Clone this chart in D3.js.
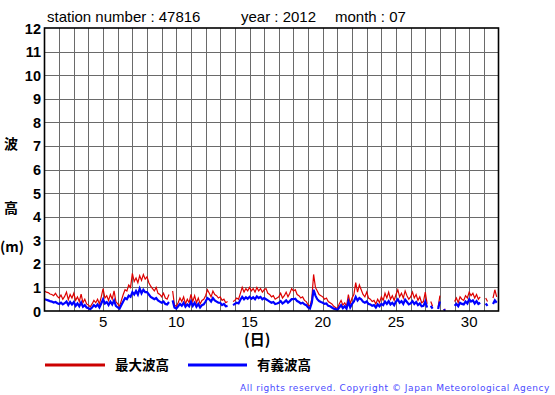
<!DOCTYPE html>
<html>
<head>
<meta charset="utf-8">
<script src="https://cdn.jsdelivr.net/npm/d3@7"></script>
<style>
  body { margin: 0; background: #fff; }
  svg { display: block; }
  .title { font-family: "Liberation Sans", Arial, sans-serif; font-size: 15px; }
  .ytick { font-family: "Liberation Sans", Arial, sans-serif; font-size: 14.5px; font-weight: bold; }
  .xtick { font-family: "Liberation Sans", Arial, sans-serif; font-size: 15px; }
  .jp { font-family: "Noto Sans CJK JP", sans-serif; font-weight: bold; }
  .copy { font-family: "DejaVu Sans", sans-serif; font-size: 9px; fill: #4a4aff; letter-spacing: 0.55px; }
</style>
</head>
<body>
<svg id="chart" width="555" height="395"></svg>
<script>
// 3-hourly readings, 8 per day, July 2012 (null = missing)
const maxWave = [
  // 1-5
  0.85,0.80,0.78,0.72,0.70,0.65,0.75,0.62,
  0.55,0.68,0.50,0.62,0.80,0.48,0.70,0.55,
  0.75,0.45,0.60,0.40,0.72,0.35,0.50,0.30,
  0.25,0.18,0.30,0.45,0.35,0.50,0.30,0.60,
  0.95,0.55,0.65,0.45,0.70,0.50,0.85,0.40,
  // 6-10
  0.30,0.20,0.45,0.70,0.90,0.85,1.10,1.00,
  1.60,1.25,1.40,1.20,1.50,1.30,1.55,1.35,
  1.45,1.20,1.05,0.95,0.85,1.00,0.75,0.70,
  0.60,0.75,0.55,0.50,0.70,null,0.85,0.25,
  0.20,0.35,0.55,0.40,0.60,0.30,0.50,0.35,
  // 11-15
  0.70,0.40,0.65,0.35,0.55,0.30,0.45,0.50,
  0.65,0.90,0.75,0.60,0.85,0.70,0.65,0.55,
  0.60,0.45,0.50,0.35,0.40,null,null,0.40,
  0.45,0.55,0.50,0.75,1.00,0.80,0.95,0.85,
  1.00,0.85,0.95,0.80,1.00,0.85,0.95,0.80,
  // 16-20
  0.90,0.95,0.75,0.70,0.60,0.65,0.50,0.55,
  0.60,0.75,0.55,0.65,0.80,0.60,0.75,0.95,
  0.85,0.90,0.70,0.65,0.55,0.60,0.45,0.40,
  0.25,0.20,0.50,1.55,1.00,0.85,0.70,0.65,
  0.60,0.50,0.55,0.40,0.35,0.30,0.20,0.15,
  // 21-25
  0.10,0.30,0.45,0.25,0.35,0.20,0.70,0.30,
  0.55,0.70,1.20,0.80,1.10,0.90,0.70,0.60,
  0.80,0.55,0.50,0.40,0.45,0.30,0.50,0.35,
  0.60,0.45,0.75,0.55,0.80,0.50,0.65,0.45,
  0.70,0.90,0.60,0.75,0.55,0.85,0.65,0.50,
  // 26-31
  0.60,0.80,0.55,0.70,0.45,0.60,0.35,0.40,
  0.80,0.30,null,0.40,0.20,null,null,0.15,
  0.65,null,0.05,0.08,null,null,null,null,
  0.40,0.55,0.35,0.60,0.50,0.45,0.65,0.55,
  0.80,0.65,0.75,0.55,0.70,0.50,0.60,null,
  null,0.55,0.40,null,null,0.55,0.90,0.60
];
const sigWave = [
  // 1-5
  0.50,0.48,0.45,0.42,0.40,0.36,0.38,0.33,
  0.30,0.35,0.28,0.33,0.40,0.25,0.38,0.28,
  0.38,0.22,0.32,0.20,0.36,0.18,0.25,0.15,
  0.12,0.08,0.15,0.25,0.18,0.28,0.15,0.32,
  0.50,0.32,0.38,0.25,0.40,0.28,0.45,0.22,
  // 6-10
  0.15,0.10,0.25,0.40,0.55,0.50,0.65,0.60,
  0.80,0.70,0.85,0.70,0.95,0.75,0.90,0.80,
  0.80,0.70,0.60,0.55,0.50,0.55,0.45,0.40,
  0.35,0.40,0.30,0.28,0.38,null,0.45,0.15,
  0.10,0.20,0.30,0.22,0.35,0.18,0.28,0.20,
  // 11-15
  0.40,0.22,0.35,0.18,0.30,0.15,0.25,0.28,
  0.40,0.55,0.50,0.40,0.55,0.45,0.40,0.35,
  0.35,0.25,0.30,0.20,0.22,null,null,0.25,
  0.30,0.35,0.32,0.48,0.60,0.50,0.58,0.52,
  0.60,0.52,0.58,0.50,0.62,0.55,0.60,0.50,
  // 16-20
  0.55,0.50,0.45,0.40,0.35,0.38,0.30,0.32,
  0.35,0.42,0.32,0.38,0.45,0.35,0.42,0.50,
  0.50,0.52,0.42,0.38,0.32,0.35,0.28,0.25,
  0.15,0.10,0.35,0.90,0.65,0.50,0.42,0.38,
  0.35,0.30,0.32,0.22,0.20,0.15,0.10,0.08,
  // 21-25
  0.05,0.15,0.25,0.12,0.20,0.10,0.40,0.15,
  0.30,0.40,0.60,0.45,0.55,0.50,0.40,0.35,
  0.40,0.30,0.28,0.22,0.25,0.15,0.28,0.20,
  0.30,0.25,0.40,0.30,0.42,0.28,0.35,0.25,
  0.40,0.50,0.35,0.42,0.30,0.48,0.38,0.28,
  // 26-31
  0.32,0.42,0.30,0.38,0.25,0.32,0.20,0.22,
  0.40,0.15,null,0.22,0.10,null,null,0.08,
  0.40,null,0.03,0.05,null,null,null,null,
  0.22,0.30,0.20,0.35,0.30,0.28,0.40,0.32,
  0.50,0.40,0.45,0.32,0.42,0.30,0.35,null,
  null,0.32,0.22,null,null,0.30,0.45,0.35
];
const perDay = 8;
const xTickDays = [5, 10, 15, 20, 25, 30];
const yTicks = d3.range(0, 13);
const titleParts = [
  { text: "station number : 47816", x: 47 },
  { text: "year : 2012", x: 241 },
  { text: "month : 07", x: 335 }
];

const svg = d3.select("#chart");
const plotLeft = 44.5, plotRight = 498.5, plotTop = 28, plotBottom = 311;

const x = d3.scaleLinear().domain([1, 32]).range([plotLeft, plotRight]);
const y = d3.scaleLinear().domain([0, 12]).range([plotBottom, plotTop]);

// Title
svg.append("g").selectAll("text").data(titleParts).enter().append("text")
  .attr("class", "title")
  .attr("x", d => d.x).attr("y", 22)
  .text(d => d.text);

// Grid
const grid = svg.append("g").attr("stroke", "#6a6a6a").attr("stroke-width", 1);
grid.selectAll(".vg").data(d3.range(2, 32)).enter().append("line")
  .attr("x1", d => Math.round(x(d)) + 0.5).attr("x2", d => Math.round(x(d)) + 0.5)
  .attr("y1", plotTop).attr("y2", plotBottom);
grid.selectAll(".hg").data(yTicks.slice(1, 12)).enter().append("line")
  .attr("x1", plotLeft).attr("x2", plotRight)
  .attr("y1", d => Math.round(y(d)) + 0.5).attr("y2", d => Math.round(y(d)) + 0.5);

// Y tick labels
svg.append("g").selectAll("text").data(yTicks).enter().append("text")
  .attr("class", "ytick")
  .attr("x", 41).attr("y", d => y(d) + 5.5)
  .attr("text-anchor", "end")
  .text(d => d);

// X tick labels
svg.append("g").selectAll("text").data(xTickDays).enter().append("text")
  .attr("class", "xtick")
  .attr("x", d => x(d)).attr("y", 327)
  .attr("text-anchor", "middle")
  .text(d => d);

// Series
const toPoints = arr => arr.map((v, i) => ({ d: 1 + i / perDay, v }));
const line = d3.line()
  .defined(p => p.v !== null)
  .x(p => x(p.d))
  .y(p => y(p.v));

svg.append("clipPath").attr("id", "plot-clip")
  .append("rect").attr("x", plotLeft).attr("y", plotTop)
  .attr("width", plotRight - plotLeft).attr("height", plotBottom - plotTop);

const plot = svg.append("g").attr("clip-path", "url(#plot-clip)");
plot.append("path")
  .attr("d", line(toPoints(maxWave)))
  .attr("fill", "none").attr("stroke", "#dd0000").attr("stroke-width", 1.2);
plot.append("path")
  .attr("d", line(toPoints(sigWave)))
  .attr("fill", "none").attr("stroke", "#0000ff").attr("stroke-width", 2.2);

// Frame
svg.append("rect")
  .attr("x", plotLeft).attr("y", plotTop)
  .attr("width", plotRight - plotLeft).attr("height", plotBottom - plotTop)
  .attr("fill", "none").attr("stroke", "#000").attr("stroke-width", 1.6);

// Y axis title (vertical)
svg.append("text").attr("class", "jp").attr("x", 4).attr("y", 149)
  .attr("font-size", 14).text("波");
svg.append("text").attr("class", "jp").attr("x", 4).attr("y", 213)
  .attr("font-size", 14).text("高");
svg.append("text").attr("class", "jp").attr("x", 0).attr("y", 252)
  .attr("font-size", 14).text("(m)");

// X axis title
svg.append("text").attr("class", "jp").attr("x", 244).attr("y", 345)
  .attr("font-size", 15).text("(日)");

// Legend
const legend = [
  { label: "最大波高", color: "#cc0000", x0: 45, x1: 105, tx: 115 },
  { label: "有義波高", color: "#0000ff", x0: 188, x1: 247, tx: 257 }
];
const lg = svg.append("g");
lg.selectAll("line").data(legend).enter().append("line")
  .attr("x1", d => d.x0).attr("x2", d => d.x1)
  .attr("y1", 365).attr("y2", 365)
  .attr("stroke", d => d.color).attr("stroke-width", 3);
lg.selectAll("text").data(legend).enter().append("text")
  .attr("class", "jp").attr("font-size", 13.5)
  .attr("x", d => d.tx).attr("y", 370)
  .text(d => d.label);

// Copyright
svg.append("text").attr("class", "copy")
  .attr("x", 550).attr("y", 391).attr("text-anchor", "end")
  .text("All rights reserved. Copyright © Japan Meteorological Agency");
</script>
</body>
</html>
